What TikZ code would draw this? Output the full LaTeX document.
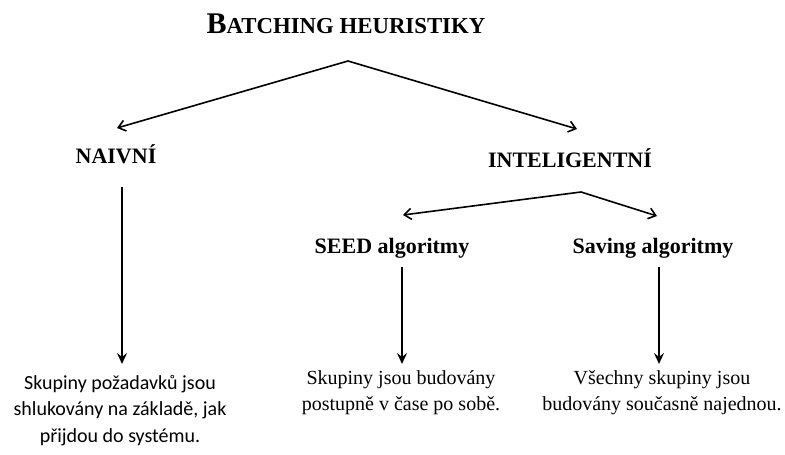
\documentclass[tikz,border=0pt]{standalone}
\usepackage{fontspec}
\setmainfont{Liberation Serif}
\newfontfamily\calib{Carlito}
\usetikzlibrary{arrows.meta}
\begin{document}
\begin{tikzpicture}[x=1pt,y=-1pt,
  lbl/.style={font=\fontsize{22}{26}\selectfont\bfseries, anchor=base, inner sep=0pt},
  desc/.style={font=\fontsize{20}{26.5}\selectfont, align=center, anchor=north, inner sep=0pt},
  arr/.style={line width=1.6pt, -{Straight Barb[length=7pt,width=11pt,line width=1.6pt]}},
  vline/.style={line width=1.6pt, -{Stealth[length=11pt,width=10pt,inset=4pt]}}]
\useasboundingbox (0,0) rectangle (785,455);
% title
\node[anchor=base, inner sep=0pt] (title) at (346,34)
  {\bfseries\fontsize{30}{34}\selectfont B\fontsize{22.8}{26}\selectfont ATCHING HEURISTIKY};
\node[lbl] (naiv) at (116,163) {NAIVNÍ};
\node[lbl] (intel) at (570,167) {INTELIGENTNÍ};
\node[lbl] (seed) at (392,253) {SEED algoritmy};
\node[lbl] (saving) at (653,253) {Saving algoritmy};
\node[desc, font=\calib\fontsize{20}{26.5}\selectfont] (dnaiv) at (120,375)
  {Skupiny požadavků jsou\\shlukovány na základě, jak\\přijdou do systému.};
\node[desc, font=\fontsize{20}{26.5}\selectfont] (dseed) at (401,370)
  {Skupiny jsou budovány\\postupně v čase po sobě.};
\node[desc, font=\fontsize{20}{26.5}\selectfont] (dsave) at (662,370)
  {Všechny skupiny jsou\\budovány současně najednou.};
% junction and tip coordinates
\coordinate (tj) at (348,61);
\coordinate (tl) at (117,128);
\coordinate (tr) at (577,129);
\coordinate (ij) at (581,192);
\coordinate (il) at (403,215);
\coordinate (ir) at (657,216);
\coordinate (ns) at (122,187);
\coordinate (ne) at (122,364);
\coordinate (ss) at (402,267);
\coordinate (se) at (402,364);
\coordinate (vs) at (659,267);
\coordinate (ve) at (659,364);
\draw[arr] (tj) -- (tl);
\draw[arr] (tj) -- (tr);
\draw[arr] (ij) -- (il);
\draw[arr] (ij) -- (ir);
\draw[vline] (ns) -- (ne);
\draw[vline] (ss) -- (se);
\draw[vline] (vs) -- (ve);
\end{tikzpicture}
\end{document}
